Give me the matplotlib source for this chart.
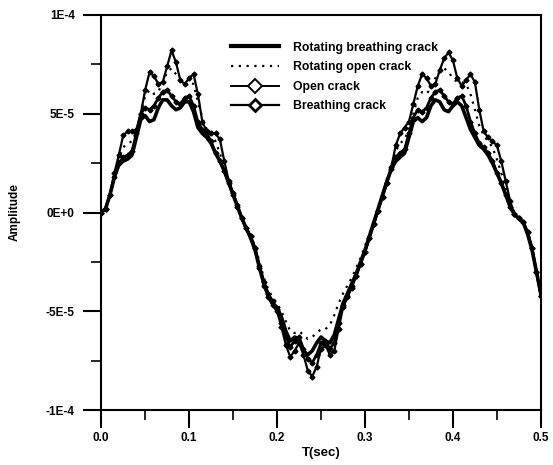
import numpy as np
import matplotlib
matplotlib.use("Agg")
import matplotlib.pyplot as plt
from matplotlib.lines import Line2D
from matplotlib.ticker import MultipleLocator, FixedLocator

plt.rcParams["font.family"] = ["Liberation Sans", "DejaVu Sans"]

# sampling times (s)
t = np.linspace(0.0, 0.5, 101)

# amplitudes in units of 1E-5, every 0.005 s
open_crack = [
    0.0, 0.2, 0.9, 2.0, 2.9, 3.9, 4.1, 4.1, 4.2, 5.0,
    6.2, 7.1, 6.9, 6.5, 6.6, 7.4, 8.2, 7.6, 6.7, 6.5,
    6.8, 7.0, 6.0, 4.6, 4.1, 4.0, 4.0, 3.7, 2.6, 1.6,
    1.0, 0.4, -0.3, -0.8, -1.2, -1.8, -2.8, -3.7, -4.3, -4.7,
    -5.0, -5.8, -6.7, -7.3, -7.0, -6.6, -7.2, -8.0, -8.3, -7.8,
    -6.9, -6.7, -7.2, -7.0, -5.9, -4.8, -4.3, -3.8, -3.2, -2.6,
    -2.0, -1.3, -0.6, 0.1, 0.8, 1.5, 2.3, 3.4, 4.0, 4.3,
    4.6, 5.5, 6.4, 7.0, 6.8, 6.4, 6.5, 7.2, 7.8, 8.1,
    7.7, 6.8, 6.4, 6.7, 7.0, 6.6, 5.2, 4.1, 3.8, 3.6,
    3.4, 2.6, 1.6, 0.6, -0.1, -0.3, -0.5, -1.0, -1.8, -3.0,
    -4.2,
]

rot_open_crack = [
    0.0, 0.2, 0.9, 1.9, 2.7, 3.3, 3.5, 3.6, 4.1, 5.0,
    5.9, 6.2, 6.0, 6.1, 6.6, 7.1, 7.3, 7.0, 6.7, 6.5,
    6.6, 6.5, 5.6, 4.8, 4.2, 3.9, 3.6, 3.0, 2.3, 1.6,
    1.0, 0.4, -0.3, -0.8, -1.2, -1.7, -2.5, -3.3, -3.9, -4.3,
    -4.6, -5.0, -5.5, -6.0, -6.1, -6.0, -6.2, -6.4, -6.3, -6.1,
    -5.9, -5.9, -5.7, -5.2, -4.6, -4.1, -3.7, -3.3, -2.8, -2.3,
    -1.7, -1.1, -0.5, 0.2, 0.9, 1.6, 2.4, 3.1, 3.5, 3.7,
    4.2, 5.0, 5.8, 6.1, 6.0, 6.3, 6.8, 7.2, 7.3, 7.1,
    6.8, 6.6, 6.6, 6.5, 6.0, 5.2, 4.4, 3.9, 3.6, 3.3,
    2.7, 2.0, 1.3, 0.5, 0.0, -0.3, -0.5, -1.0, -1.8, -3.0,
    -4.2,
]

breathing_crack = [
    0.0, 0.2, 0.9, 1.8, 2.5, 2.8, 2.9, 3.1, 4.0, 5.0,
    5.3, 5.2, 5.4, 5.8, 6.1, 6.2, 5.9, 5.6, 5.5, 5.8,
    5.9, 5.4, 4.6, 4.2, 4.0, 3.6, 3.0, 2.6, 2.1, 1.5,
    0.9, 0.3, -0.3, -0.8, -1.2, -1.8, -2.7, -3.5, -4.1, -4.5,
    -4.9, -5.6, -6.3, -6.8, -6.5, -6.3, -6.9, -7.4, -7.6, -7.2,
    -6.6, -6.5, -6.9, -6.6, -5.6, -4.7, -4.2, -3.7, -3.2, -2.6,
    -2.0, -1.3, -0.6, 0.1, 0.8, 1.5, 2.2, 2.8, 3.0, 3.2,
    4.0, 4.8, 5.2, 5.1, 5.3, 5.8, 6.1, 6.2, 5.9, 5.6,
    5.5, 5.8, 5.9, 5.4, 4.6, 4.0, 3.5, 3.3, 3.0, 2.6,
    2.0, 1.5, 0.9, 0.3, -0.1, -0.3, -0.5, -1.0, -1.8, -3.0,
    -4.2,
]

rot_breathing_crack = [
    0.0, 0.2, 0.9, 1.8, 2.4, 2.6, 2.7, 2.9, 3.8, 4.7,
    4.9, 4.6, 4.7, 5.3, 5.7, 5.7, 5.4, 5.2, 5.3, 5.6,
    5.6, 5.1, 4.3, 4.0, 3.8, 3.5, 3.0, 2.6, 2.1, 1.5,
    0.9, 0.3, -0.3, -0.8, -1.3, -1.9, -2.8, -3.6, -4.2, -4.6,
    -4.8, -5.3, -6.0, -6.5, -6.3, -6.4, -7.0, -7.2, -7.0, -6.6,
    -6.3, -6.5, -6.6, -6.2, -5.4, -4.6, -4.1, -3.6, -3.1, -2.5,
    -1.9, -1.2, -0.5, 0.2, 0.9, 1.6, 2.2, 2.6, 2.8, 3.0,
    3.8, 4.6, 4.8, 4.6, 4.8, 5.4, 5.7, 5.6, 5.2, 5.1,
    5.4, 5.6, 5.4, 4.8, 4.2, 3.8, 3.4, 3.2, 2.9, 2.5,
    2.0, 1.5, 0.9, 0.3, -0.1, -0.3, -0.5, -1.1, -1.9, -3.0,
    -4.1,
]

labels = ["Rotating breathing crack", "Rotating open crack", "Open crack", "Breathing crack"]
y_ticks = [-1e-4, -5e-5, 0.0, 5e-5, 1e-4]
y_tick_labels = ["-1E-4", "-5E-5", "0E+0", "5E-5", "1E-4"]
x_ticks = [0.0, 0.1, 0.2, 0.3, 0.4, 0.5]
x_tick_labels = ["0.0", "0.1", "0.2", "0.3", "0.4", "0.5"]

scale = 1e-5

fig = plt.figure(figsize=(5.53, 4.65), dpi=100)
ax = fig.add_axes([0.183, 0.118, 0.795, 0.85])

ax.plot(t, np.array(rot_breathing_crack) * scale, color="black", lw=2.6,
        solid_joinstyle="round")
ax.plot(t, np.array(rot_open_crack) * scale, color="black", lw=1.6,
        linestyle=(0, (1, 2.5)))
ax.plot(t, np.array(open_crack) * scale, color="black", lw=1.6,
        marker="D", markersize=2.5)
ax.plot(t, np.array(breathing_crack) * scale, color="black", lw=2.0,
        marker="D", markersize=2.5)

ax.set_xlim(0, 0.5)
ax.set_ylim(-1e-4, 1e-4)

ax.xaxis.set_major_locator(FixedLocator(x_ticks))
ax.xaxis.set_minor_locator(MultipleLocator(0.05))
ax.yaxis.set_major_locator(FixedLocator(y_ticks))
ax.yaxis.set_minor_locator(MultipleLocator(2.5e-5))
ax.set_xticklabels(x_tick_labels)
ax.set_yticklabels(y_tick_labels)

ax.tick_params(which="major", direction="out", length=13, width=1.5,
               labelsize=8.5, pad=6)
ax.tick_params(axis="x", which="major", pad=3)
ax.tick_params(which="minor", direction="out", length=7, width=1.2)
ax.tick_params(top=False, right=False)
for lab in ax.get_xticklabels() + ax.get_yticklabels():
    lab.set_fontweight("bold")

for sp in ax.spines.values():
    sp.set_linewidth(1.5)

ax.set_xlabel("T(sec)", fontsize=9.5, fontweight="bold", labelpad=2)
ax.set_ylabel("Amplitude", fontsize=8.5, fontweight="bold", labelpad=18)

# legend proxies (legend markers are bigger than the ones on the curves)
handles = [
    Line2D([], [], color="black", lw=3),
    Line2D([], [], color="black", lw=1.6, linestyle=(0, (1, 2.5))),
    Line2D([], [], color="black", lw=1.4, marker="D", markersize=7,
           markerfacecolor="white", markeredgewidth=1.4),
    Line2D([], [], color="black", lw=1.6, marker="D", markersize=6,
           markerfacecolor="white", markeredgewidth=2.0),
]
leg = ax.legend(handles, labels, loc="upper left", bbox_to_anchor=(0.27, 0.96),
                frameon=False, handlelength=3.9, handletextpad=1.2,
                labelspacing=0.62, prop={"size": 8.8, "weight": "bold"})

fig.savefig("out.png", dpi=100)
